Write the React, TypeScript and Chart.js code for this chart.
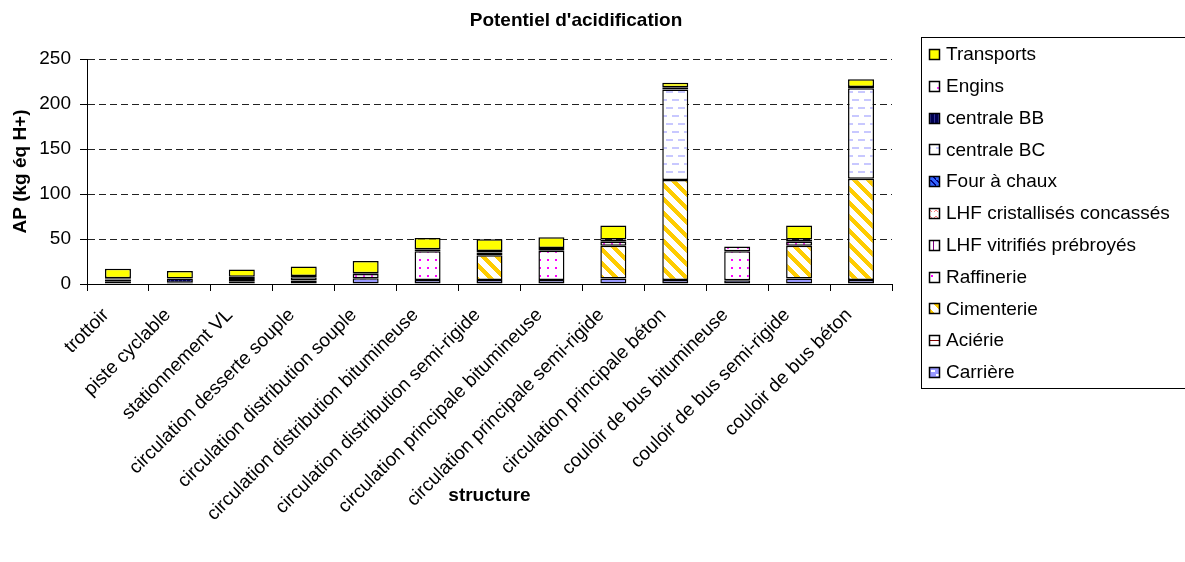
import React, { useEffect, useRef } from "react";
import { Chart, registerables } from "chart.js";

Chart.register(...registerables);

const FONT = "'Liberation Sans', Arial, Helvetica, sans-serif";

const chartTitle = "Potentiel d'acidification";
const yAxisTitle = "AP (kg éq H+)";
const xAxisTitle = "structure";

const categories = [
  "trottoir",
  "piste cyclable",
  "stationnement VL",
  "circulation desserte souple",
  "circulation distribution souple",
  "circulation distribution bitumineuse",
  "circulation distribution semi-rigide",
  "circulation principale bitumineuse",
  "circulation principale semi-rigide",
  "circulation principale béton",
  "couloir de bus bitumineuse",
  "couloir de bus semi-rigide",
  "couloir de bus béton",
];

// stacking order: bottom to top
const carriere = [3, 1.5, 2.5, 4, 6.5, 4.5, 4.5, 4.5, 6, 4.5, 4.3, 6, 4.5];
const acierie = [0, 0, 0, 0, 0, 0, 0, 0, 0, 0, 0, 0, 0];
const cimenterie = [0, 0, 0, 0, 0, 0, 27.5, 0, 36.5, 111, 0, 36.5, 112.5];
const raffinerie = [2, 0, 3, 3.5, 4.5, 32, 3, 32.5, 4.4, 0, 32, 4.4, 0];
const lhfVitrifies = [0, 0, 0, 0, 0, 0, 0, 0, 0, 0, 0, 0, 0];
const lhfCristallises = [0, 0, 0, 0, 0, 0, 0, 0, 0, 0, 0, 0, 0];
const fourAChaux = [0, 0, 0, 0, 0, 0, 0, 0, 0, 0, 0, 0, 0];
const centraleBC = [0, 0, 0, 0, 0, 0, 0, 0, 0, 100.7, 0, 0, 100.5];
const centraleBB = [0, 4.5, 2.5, 0, 0, 0, 0, 0, 0, 0, 0, 0, 0];
const engins = [1.5, 0, 0, 1.5, 1, 2, 1.8, 3, 2.6, 2.5, 5.5, 2.6, 1.5];
const transports = [10.5, 8.5, 8, 10.5, 13.5, 12.5, 13, 12, 15.5, 5, 0, 15.5, 8.5];

const seriesNames = [
  "Carrière",
  "Aciérie",
  "Cimenterie",
  "Raffinerie",
  "LHF vitrifiés prébroyés",
  "LHF cristallisés concassés",
  "Four à chaux",
  "centrale BC",
  "centrale BB",
  "Engins",
  "Transports",
];
const seriesValues = [
  carriere,
  acierie,
  cimenterie,
  raffinerie,
  lhfVitrifies,
  lhfCristallises,
  fourAChaux,
  centraleBC,
  centraleBB,
  engins,
  transports,
];

const yTicks = [0, 50, 100, 150, 200, 250];

function tile(w: number, h: number, draw: (g: CanvasRenderingContext2D) => void) {
  const c = document.createElement("canvas");
  c.width = w;
  c.height = h;
  const g = c.getContext("2d")!;
  draw(g);
  return g.createPattern(c, "repeat")!;
}

function makeFills(): (CanvasPattern | string)[] {
  const carriereP = tile(10, 8, (g) => {
    g.fillStyle = "#9999FF";
    g.fillRect(0, 0, 10, 8);
    g.fillStyle = "#FFFFFF";
    g.fillRect(1, 2, 4, 2);
    g.fillRect(6, 6, 4, 2);
  });
  const acierieP = tile(6, 6, (g) => {
    g.fillStyle = "#FFFFFF";
    g.fillRect(0, 0, 6, 6);
    g.fillStyle = "#800000";
    g.fillRect(0, 4, 6, 1);
  });
  const cimenterieP = tile(14, 14, (g) => {
    g.fillStyle = "#FFFFFF";
    g.fillRect(0, 0, 14, 14);
    g.fillStyle = "#FFCC00";
    for (let y = 0; y < 14; y++) {
      for (let x = 0; x < 14; x++) {
        if ((x - y + 28) % 14 < 6) g.fillRect(x, y, 1, 1);
      }
    }
  });
  const raffinerieP = tile(8, 8, (g) => {
    g.fillStyle = "#FFFFFF";
    g.fillRect(0, 0, 8, 8);
    g.fillStyle = "#FF00FF";
    g.fillRect(3, 3, 2, 2);
  });
  const vitrifiesP = tile(6, 6, (g) => {
    g.fillStyle = "#FFFFFF";
    g.fillRect(0, 0, 6, 6);
    g.fillStyle = "#800080";
    g.fillRect(3, 0, 1, 6);
  });
  const cristallisesP = tile(6, 6, (g) => {
    g.fillStyle = "#FFFFFF";
    g.fillRect(0, 0, 6, 6);
    g.fillStyle = "#FF8080";
    g.fillRect(0, 0, 1, 1);
    g.fillRect(1, 1, 1, 1);
    g.fillRect(4, 1, 1, 1);
    g.fillRect(5, 0, 1, 1);
  });
  const fourP = tile(6, 6, (g) => {
    g.fillStyle = "#3366FF";
    g.fillRect(0, 0, 6, 6);
    g.fillStyle = "#000080";
    for (let i = 0; i < 6; i++) g.fillRect(i, i, 2, 1);
  });
  const centraleBCP = tile(12, 16, (g) => {
    g.fillStyle = "#FFFFFF";
    g.fillRect(0, 0, 12, 16);
    g.fillStyle = "#C8C8FF";
    g.fillRect(0, 3, 7, 2);
    g.fillRect(6, 11, 6, 2);
    g.fillRect(0, 11, 1, 2);
  });
  const centraleBBP = tile(4, 4, (g) => {
    g.fillStyle = "#000050";
    g.fillRect(0, 0, 4, 4);
    g.fillStyle = "#333399";
    g.fillRect(2, 0, 1, 4);
  });
  const enginsP = tile(10, 10, (g) => {
    g.fillStyle = "#FFFFFF";
    g.fillRect(0, 0, 10, 10);
    g.fillStyle = "#FF33FF";
    g.fillRect(7, 7, 2, 2);
  });
  return [
    carriereP,
    acierieP,
    cimenterieP,
    raffinerieP,
    vitrifiesP,
    cristallisesP,
    fourP,
    centraleBCP,
    centraleBBP,
    enginsP,
    "#FFFF00",
  ];
}

const W = 1185;
const H = 562;

export default function App() {
  const ref = useRef<HTMLCanvasElement | null>(null);

  useEffect(() => {
    const canvas = ref.current;
    if (!canvas) return;
    const fills = makeFills();

    const decor = {
      id: "decor",
      afterDraw(chart: any) {
        const ctx = chart.ctx as CanvasRenderingContext2D;
        ctx.save();
        // title
        ctx.fillStyle = "#000";
        ctx.font = `bold 19px ${FONT}`;
        ctx.textAlign = "center";
        ctx.textBaseline = "middle";
        ctx.fillText(chartTitle, 576, 21);

        // legend
        const lx = 921.5;
        const ly = 37.5;
        ctx.strokeStyle = "#000";
        ctx.lineWidth = 1;
        ctx.strokeRect(lx, ly, 300, 351);
        ctx.font = `19px ${FONT}`;
        ctx.textAlign = "left";
        ctx.textBaseline = "middle";
        const n = seriesNames.length;
        for (let k = 0; k < n; k++) {
          const i = n - 1 - k;
          const cy = 54 + k * 31.8;
          const bx = 929;
          const by = Math.round(cy - 5);
          ctx.fillStyle = fills[i] as any;
          ctx.fillRect(bx, by, 11, 11);
          ctx.strokeStyle = "#000";
          ctx.lineWidth = 1.5;
          ctx.strokeRect(bx + 0.5, by + 0.5, 10, 10);
          ctx.fillStyle = "#000";
          ctx.fillText(seriesNames[i], 946, cy + 1);
        }
        ctx.restore();
      },
    };

    const chart = new Chart(canvas, {
      type: "bar",
      data: {
        labels: categories,
        datasets: seriesNames.map((name, i) => ({
          label: name,
          data: seriesValues[i].map((v) => (v === 0 ? null : v)),
          backgroundColor: fills[i] as any,
          borderColor: "#000",
          borderWidth: 1.5,
          borderSkipped: false,
          categoryPercentage: 1,
          barPercentage: 0.42,
        })),
      },
      options: {
        animation: false,
        responsive: false,
        maintainAspectRatio: false,
        layout: { padding: { left: 0, right: W - 892, top: 59, bottom: 0 } },
        plugins: {
          legend: { display: false },
          title: { display: false },
          tooltip: { enabled: false },
        },
        scales: {
          x: {
            stacked: true,
            grid: {
              display: true,
              drawOnChartArea: false,
              drawTicks: true,
              tickLength: 7,
              color: "#000",
              offset: true,
            },
            border: { display: true, color: "#000", width: 1 },
            ticks: {
              minRotation: 45,
              maxRotation: 45,
              autoSkip: false,
              color: "#000",
              padding: 13,
              labelOffset: -12,
              font: { family: FONT, size: 19 },
            },
            title: {
              display: true,
              text: xAxisTitle,
              color: "#000",
              font: { family: FONT, size: 19, weight: "bold" },
              padding: { top: 0, bottom: 55 },
            },
            afterFit: (s: any) => {
              s.height = H - 284;
            },
          },
          y: {
            stacked: true,
            min: 0,
            max: 250,
            afterBuildTicks: (s: any) => {
              s.ticks = yTicks.map((v) => ({ value: v }));
            },
            grid: {
              color: "#222",
              lineWidth: 1,
              drawTicks: true,
              tickLength: 7,
              tickColor: "#000",
              tickBorderDash: [],
            },
            border: { display: true, color: "#000", width: 1, dash: [7, 4] },
            ticks: {
              color: "#000",
              padding: 9,
              font: { family: FONT, size: 19 },
            },
            title: {
              display: true,
              text: yAxisTitle,
              color: "#000",
              font: { family: FONT, size: 19, weight: "bold" },
              padding: { top: 9, bottom: 0 },
            },
            afterFit: (s: any) => {
              s.width = 87;
            },
          },
        },
      } as any,
      plugins: [decor],
    });
    return () => chart.destroy();
  }, []);

  return (
    <div style={{ position: "absolute", left: 0, top: 0, width: W, height: H, background: "#fff" }}>
      <canvas ref={ref} width={W} height={H} style={{ display: "block", width: W, height: H }} />
    </div>
  );
}
